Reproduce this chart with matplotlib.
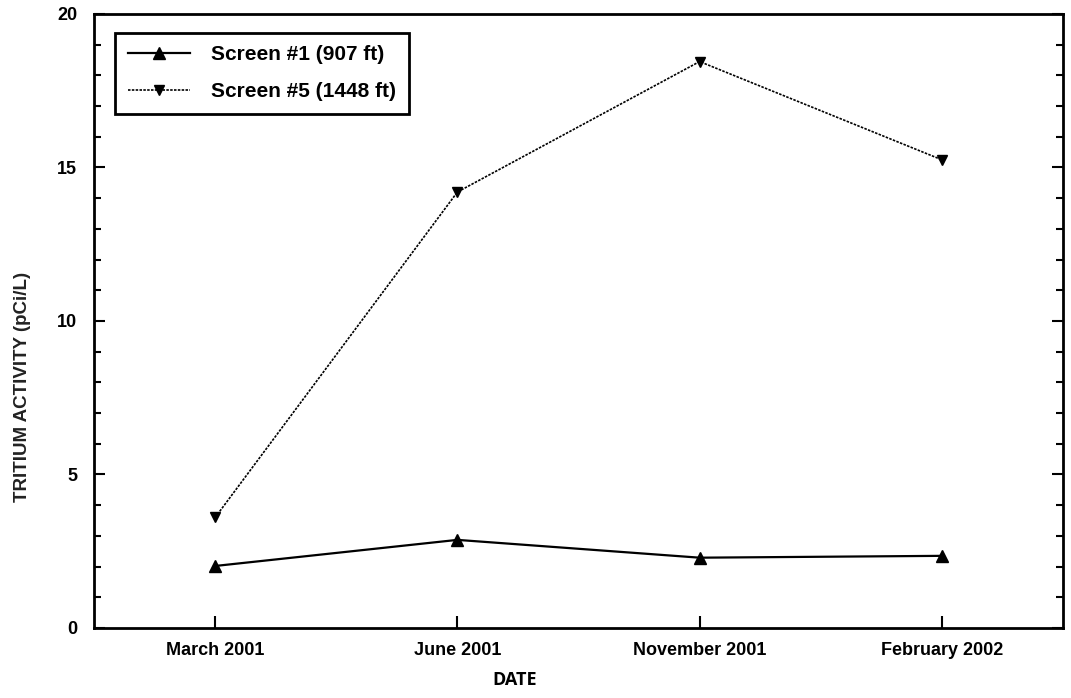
import matplotlib.pyplot as plt
from matplotlib.ticker import MultipleLocator

dates = ["March 2001", "June 2001", "November 2001", "February 2002"]
screen1 = [2.02, 2.87, 2.29, 2.35]
screen5 = [3.6, 14.2, 18.45, 15.25]

plt.rcParams["font.family"] = ["Liberation Sans", "DejaVu Sans"]

fig = plt.figure(figsize=(10.71, 6.98), dpi=100)
ax = fig.add_axes([0.0878, 0.1003, 0.9047, 0.8797])

x = list(range(len(dates)))
ax.plot(x, screen1, color="black", lw=1.6, marker="^", ms=8.5,
        label="Screen #1 (907 ft)")
ax.plot(x, screen5, color="black", lw=1.2, ls=(0, (1.5, 0.8)), marker="v", ms=7.5,
        label="Screen #5 (1448 ft)")

ax.set_xlim(-0.5, 3.5)
ax.set_ylim(0, 20)
ax.set_xticks(x)
ax.set_xticklabels(dates, fontsize=13, fontweight="bold")
ax.yaxis.set_major_locator(MultipleLocator(5))
ax.yaxis.set_minor_locator(MultipleLocator(1))
for lbl in ax.get_yticklabels():
    lbl.set_fontweight("bold")
    lbl.set_fontsize(13)

ax.tick_params(axis="y", which="both", direction="in", left=True, right=True,
               width=1.5)
ax.tick_params(axis="y", which="major", length=8, pad=12)
ax.tick_params(axis="y", which="minor", length=5)
ax.tick_params(axis="x", direction="in", length=9, width=1.5, pad=10)
for sp in ax.spines.values():
    sp.set_linewidth(2)

ax.set_xlabel("DATE", fontsize=13, fontweight="bold", family="Open Sans",
              va="center")
ax.xaxis.set_label_coords(0.434, -0.085)
ax.set_ylabel("TRITIUM ACTIVITY (pCi/L)", fontsize=13.5, fontweight="bold",
              va="center", color="#222222")
ax.yaxis.set_label_coords(-0.074, 0.393)

leg = ax.legend(loc="upper left", bbox_to_anchor=(0.022, 0.969),
                prop={"weight": "bold", "size": 15}, fancybox=False,
                framealpha=1, edgecolor="black", handlelength=3.0,
                borderpad=0.6, labelspacing=0.85, handletextpad=1.0,
                borderaxespad=0)
leg.get_frame().set_linewidth(2)

fig.savefig("out.png", dpi=100)
